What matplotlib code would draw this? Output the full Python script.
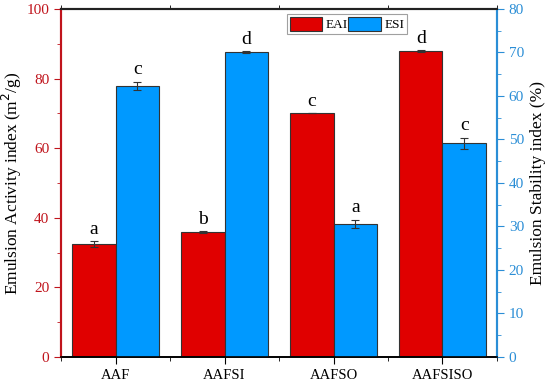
import matplotlib.pyplot as plt
import numpy as np

samples = ["AAF", "AAFSI", "AAFSO", "AAFSISO"]
eai = [32.5, 35.8, 70.0, 87.8]
eai_err = [0.8, 0.3, 0.0, 0.3]
eai_letters = ["a", "b", "c", "d"]
esi = [62.3, 70.1, 30.6, 49.1]
esi_err = [1.0, 0.2, 0.9, 1.3]
esi_letters = ["c", "d", "a", "c"]

red = "#E00000"
blue = "#0099FF"
red_axis = "#C0141C"
blue_axis = "#2B8ED6"

plt.rcParams["font.family"] = ["Liberation Serif", "DejaVu Serif"]

fig = plt.figure(figsize=(5.5, 3.83), dpi=100)
ax = fig.add_axes([0.111, 0.068, 0.7926, 0.9085])
ax2 = ax.twinx()

x = np.arange(len(samples))
w = 0.4

ax.bar(x - w / 2, eai, w, color=red, edgecolor="#333333", linewidth=0.8,
       yerr=eai_err, capsize=3, error_kw=dict(elinewidth=0.8, capthick=0.8, ecolor="#333333"),
       label="EAI", zorder=2)
ax2.bar(x + w / 2, esi, w, color=blue, edgecolor="#333333", linewidth=0.8,
        yerr=esi_err, capsize=3, error_kw=dict(elinewidth=0.8, capthick=0.8, ecolor="#333333"),
        label="ESI", zorder=2)

for i in range(len(samples)):
    ax.text(x[i] - w / 2, eai[i] + eai_err[i] + 1.0, eai_letters[i], ha="center", va="bottom", fontsize=14)
    ax2.text(x[i] + w / 2, esi[i] + esi_err[i] + 0.8, esi_letters[i], ha="center", va="bottom", fontsize=14)

ax.set_xlim(-0.5, 3.5)
ax.set_ylim(0, 100)
ax2.set_ylim(0, 80)
ax.set_xticks(x)
ax.set_xticklabels(samples, fontsize=10.5)
ax.set_xticks(np.arange(-0.5, 3.6, 1), minor=True)
ax.tick_params(axis="x", which="major", direction="out", length=5)
ax.tick_params(axis="x", which="minor", direction="out", length=3, top=True)

ax.set_yticks(np.arange(0, 101, 20))
ax.set_yticks(np.arange(10, 100, 20), minor=True)
ax.tick_params(axis="y", which="both", colors=red_axis, labelsize=11, direction="out")
ax.tick_params(axis="y", which="major", length=5)
ax.tick_params(axis="y", which="minor", length=3)
ax.set_ylabel("Emulsion Activity index (m$^2$/g)", fontsize=12.5, labelpad=2)

ax2.set_yticks(np.arange(0, 81, 10))
ax2.set_yticks(np.arange(5, 80, 10), minor=True)
ax2.tick_params(axis="y", which="both", colors=blue_axis, labelsize=11, direction="out")
ax2.tick_params(axis="y", which="major", length=5)
ax2.tick_params(axis="y", which="minor", length=3)
ax2.set_ylabel("Emulsion Stability index (%)", fontsize=12.5, labelpad=4)

ax.spines["left"].set_color(red_axis)
ax2.spines["left"].set_color(red_axis)
ax2.spines["right"].set_color(blue_axis)
ax.spines["right"].set_color(blue_axis)
for a in (ax, ax2):
    a.spines["left"].set_linewidth(1.5)
    a.spines["right"].set_linewidth(1.5)
    a.spines["top"].set_linewidth(1.5)
    a.spines["top"].set_color("#222222")
    a.spines["bottom"].set_linewidth(1.2)

h1, l1 = ax.get_legend_handles_labels()
h2, l2 = ax2.get_legend_handles_labels()
leg = ax2.legend(h1 + h2, l1 + l2, loc="upper left", bbox_to_anchor=(0.518, 0.985), ncol=2,
                 fontsize=9.5, frameon=True, fancybox=False, handlelength=2.5, handleheight=1.3,
                 handletextpad=0.25, columnspacing=0.0, borderpad=0.2, borderaxespad=0)
leg.get_frame().set_edgecolor("#888888")
leg.get_frame().set_linewidth(0.8)

fig.savefig("out.png", dpi=100)
